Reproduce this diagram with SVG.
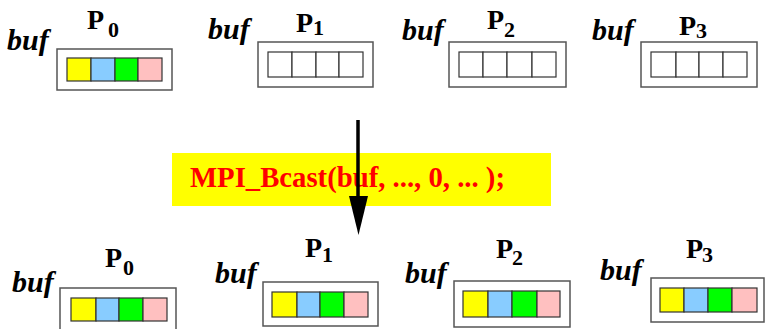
<svg xmlns="http://www.w3.org/2000/svg" width="765" height="329" viewBox="0 0 765 329">
<style>
.outer{fill:#fff;stroke:#555;stroke-width:1.5}
.cell{stroke:#333;stroke-width:1.2}
.e{fill:#fff}
.y{fill:#ffff00}
.b{fill:#88ccff}
.g{fill:#00ff00}
.p{fill:#ffc0c0}
text{font-family:'Liberation Serif','Times New Roman',serif;font-weight:bold}
.buf{font-style:italic;font-size:30px;fill:#000}
.pl{font-size:28px;fill:#000}
.sub{font-size:22px;fill:#000}
.call{font-size:28.5px;fill:#ff0000}
</style>
<rect width="765" height="329" fill="#fff"/>

<g id="top-p0">
<text class="buf" x="7" y="50">buf</text>
<text class="pl" x="87" y="29">P</text><text class="sub" x="108" y="37">0</text>
<rect class="outer" x="57" y="49" width="115" height="41"/>
<rect class="cell y" x="67" y="58" width="24" height="23"/>
<rect class="cell b" x="91" y="58" width="24" height="23"/>
<rect class="cell g" x="115" y="58" width="23" height="23"/>
<rect class="cell p" x="138" y="58" width="24" height="23"/>
</g>

<g id="top-p1">
<text class="buf" x="208" y="39">buf</text>
<text class="pl" x="296" y="32">P</text><text class="sub" x="313" y="35">1</text>
<rect class="outer" x="258" y="42" width="115" height="45"/>
<rect class="cell e" x="268" y="52" width="24" height="25"/>
<rect class="cell e" x="292" y="52" width="24" height="25"/>
<rect class="cell e" x="316" y="52" width="23" height="25"/>
<rect class="cell e" x="339" y="52" width="24" height="25"/>
</g>

<g id="top-p2">
<text class="buf" x="402" y="40">buf</text>
<text class="pl" x="487" y="29">P</text><text class="sub" x="504" y="37">2</text>
<rect class="outer" x="449" y="42" width="117" height="45"/>
<rect class="cell e" x="459" y="52" width="24" height="25"/>
<rect class="cell e" x="483" y="52" width="24" height="25"/>
<rect class="cell e" x="507" y="52" width="25" height="25"/>
<rect class="cell e" x="532" y="52" width="24" height="25"/>
</g>

<g id="top-p3">
<text class="buf" x="592" y="40">buf</text>
<text class="pl" x="679" y="35">P</text><text class="sub" x="696" y="38">3</text>
<rect class="outer" x="641" y="42" width="116" height="45"/>
<rect class="cell e" x="651" y="52" width="25" height="25"/>
<rect class="cell e" x="676" y="52" width="23" height="25"/>
<rect class="cell e" x="699" y="52" width="24" height="25"/>
<rect class="cell e" x="723" y="52" width="24" height="25"/>
</g>

<g id="call">
<rect x="172" y="153" width="379" height="53" fill="#ffff00"/>
<text class="call" x="190" y="187" textLength="315" lengthAdjust="spacingAndGlyphs">MPI_Bcast(buf, ..., 0, ... );</text>
</g>

<g id="connectors">
<line x1="358" y1="120" x2="358" y2="200" stroke="#000" stroke-width="3.5"/>
<polygon points="349,196 368,196 358.5,235" fill="#000"/>
</g>

<g id="bot-p0">
<text class="buf" x="12" y="292">buf</text>
<text class="pl" x="105" y="267">P</text><text class="sub" x="123" y="275">0</text>
<rect class="outer" x="60" y="288" width="116" height="45"/>
<rect class="cell y" x="71" y="298" width="25" height="23"/>
<rect class="cell b" x="96" y="298" width="23" height="23"/>
<rect class="cell g" x="119" y="298" width="24" height="23"/>
<rect class="cell p" x="143" y="298" width="24" height="23"/>
</g>

<g id="bot-p1">
<text class="buf" x="215" y="283">buf</text>
<text class="pl" x="305" y="257">P</text><text class="sub" x="322" y="262">1</text>
<rect class="outer" x="263" y="282" width="115" height="44"/>
<rect class="cell y" x="272" y="292" width="25" height="25"/>
<rect class="cell b" x="297" y="292" width="23" height="25"/>
<rect class="cell g" x="320" y="292" width="24" height="25"/>
<rect class="cell p" x="344" y="292" width="24" height="25"/>
</g>

<g id="bot-p2">
<text class="buf" x="405" y="283">buf</text>
<text class="pl" x="496" y="258">P</text><text class="sub" x="512" y="265">2</text>
<rect class="outer" x="454" y="281" width="116" height="46"/>
<rect class="cell y" x="463" y="291" width="25" height="26"/>
<rect class="cell b" x="488" y="291" width="24" height="26"/>
<rect class="cell g" x="512" y="291" width="25" height="26"/>
<rect class="cell p" x="537" y="291" width="23" height="26"/>
</g>

<g id="bot-p3">
<text class="buf" x="600" y="280">buf</text>
<text class="pl" x="686" y="258">P</text><text class="sub" x="702" y="262">3</text>
<rect class="outer" x="651" y="278" width="113" height="44"/>
<rect class="cell y" x="660" y="288" width="24" height="24"/>
<rect class="cell b" x="684" y="288" width="24" height="24"/>
<rect class="cell g" x="708" y="288" width="24" height="24"/>
<rect class="cell p" x="732" y="288" width="25" height="24"/>
</g>
</svg>
